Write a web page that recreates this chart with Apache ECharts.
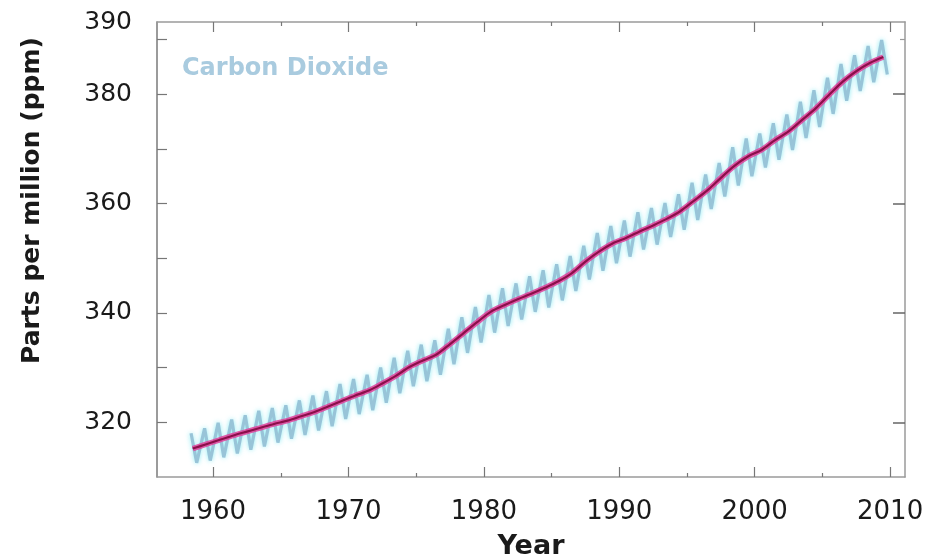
<!DOCTYPE html>
<html>
<head>
<meta charset="utf-8">
<script src="https://cdn.jsdelivr.net/npm/echarts@6/dist/echarts.min.js"></script>
<style>
html,body{margin:0;padding:0;background:#fff;}
#chart{width:926px;height:558px;}
</style>
</head>
<body>
<div id="chart"></div>
<script>
// ---- data ----
const years = [1958,1959,1960,1961,1962,1963,1964,1965,1966,1967,1968,1969,1970,1971,1972,1973,1974,1975,1976,1977,1978,1979,
  1980,1981,1982,1983,1984,1985,1986,1987,1988,1989,1990,1991,1992,1993,1994,1995,1996,1997,1998,1999,
  2000,2001,2002,2003,2004,2005,2006,2007,2008,2009];
// annual (trend) CO2, ppm
const trendPpm = [315.2,316.0,316.8,317.6,318.3,319.0,319.7,320.3,321.1,321.9,322.9,323.9,324.9,325.8,327.1,328.5,330.1,331.3,332.4,334.3,336.3,338.3,
  340.2,341.4,342.5,343.5,344.6,345.8,347.3,349.4,351.2,352.7,353.7,354.9,356.0,357.2,358.6,360.5,362.4,364.7,366.9,368.6,
  369.8,371.6,373.2,375.3,377.4,379.9,382.3,384.2,385.7,386.8];
// seasonal maximum (May) and minimum (October) of the monthly record, ppm
const seasonalHigh = [318.0,318.9,319.9,320.5,321.3,322.1,322.6,323.1,324.0,324.9,325.7,327.0,327.9,328.7,330.0,331.8,333.1,334.2,335.0,337.1,339.2,341.1,
  343.3,344.5,345.4,346.7,347.8,348.9,350.4,352.3,354.6,355.9,356.9,358.4,359.2,360.1,361.7,363.8,365.3,367.4,370.3,371.9,
  372.8,374.7,376.3,378.6,380.7,383.0,385.5,387.1,388.8,389.9];
const seasonalLow = [312.6,313.0,313.6,314.3,315.0,315.6,316.3,317.0,317.7,318.5,319.3,320.6,321.5,322.2,323.6,325.3,326.6,327.5,328.7,330.6,332.7,334.6,
  336.4,337.6,338.8,340.2,341.0,342.3,344.0,346.1,347.7,349.1,350.3,351.6,352.5,353.9,355.2,357.0,359.0,361.3,363.3,365.0,
  366.6,368.0,369.8,372.0,374.0,376.4,378.8,380.6,382.2,383.6];
const highMonth = 5;   // May
const lowMonth = 10;   // October
const xDecadeTicks = [1960,1970,1980,1990,2000,2010];
const xHalfDecadeTicks = [1965,1975,1985,1995,2005];
const yTicks = [320,330,340,350,360,370,380,390];
const yLabelValues = [320,340,360,380];
const yRightMinorTicks = [390];
const yTopLabel = '390';
const seriesName = 'Carbon Dioxide';

// ---- build series data ----
const trendData = years.map((y, i) => [y + 0.5, trendPpm[i]]);
const seasonalData = [];
years.forEach((y, i) => {
  seasonalData.push([y + (highMonth - 0.5) / 12, seasonalHigh[i]]);
  seasonalData.push([y + (lowMonth - 0.5) / 12, seasonalLow[i]]);
});

const X_MIN = 1955.86, X_MAX = 2011.1, Y_MIN = 310, Y_MAX = 393.2;
const FONT = 'DejaVu Sans';
const lineCol = '#9a9a9a';

const chart = echarts.init(document.getElementById('chart'), null, {renderer: 'canvas'});
const baseX = {
  type: 'value', min: X_MIN, max: X_MAX, gridIndex: 0,
  splitLine: {show: false}, axisPointer: {show: false}
};
const baseY = {
  type: 'value', min: Y_MIN, max: Y_MAX, gridIndex: 0,
  splitLine: {show: false}, axisPointer: {show: false}
};
chart.setOption({
  animation: false,
  backgroundColor: '#ffffff',
  grid: {left: 157, right: 21, top: 22, bottom: 81, containLabel: false, outerBoundsMode: 'none'},
  xAxis: [
    Object.assign({}, baseX, {
      position: 'bottom',
      name: 'Year', nameLocation: 'middle', nameGap: 56,
      nameTextStyle: {fontFamily: FONT, fontSize: 27, fontWeight: 'bold', color: '#1a1a1a'},
      axisLine: {show: true, onZero: false, lineStyle: {color: lineCol, width: 1.5}},
      axisTick: {show: true, inside: true, length: 10, customValues: xDecadeTicks, lineStyle: {color: '#777', width: 1.2}},
      axisLabel: {show: true, customValues: xDecadeTicks, margin: 22, fontFamily: FONT, fontSize: 26, color: '#1a1a1a', formatter: v => String(v)}
    }),
    Object.assign({}, baseX, {
      position: 'bottom',
      axisLine: {show: false},
      axisTick: {show: true, inside: true, length: 4, customValues: xHalfDecadeTicks, lineStyle: {color: '#777', width: 1.2}},
      axisLabel: {show: false}
    }),
    Object.assign({}, baseX, {
      position: 'top',
      axisLine: {show: true, onZero: false, lineStyle: {color: lineCol, width: 1.5}},
      axisTick: {show: true, inside: true, length: 10, customValues: xDecadeTicks, lineStyle: {color: '#777', width: 1.2}},
      axisLabel: {show: false}
    }),
    Object.assign({}, baseX, {
      position: 'top',
      axisLine: {show: false},
      axisTick: {show: true, inside: true, length: 4, customValues: xHalfDecadeTicks, lineStyle: {color: '#777', width: 1.2}},
      axisLabel: {show: false}
    })
  ],
  yAxis: [
    Object.assign({}, baseY, {
      position: 'left',
      name: 'Parts per million (ppm)', nameLocation: 'middle', nameGap: 112, nameRotate: 90,
      nameTextStyle: {fontFamily: FONT, fontSize: 25, fontWeight: 'bold', color: '#1a1a1a', padding: [0, 0, 0, 98]},
      axisLine: {show: true, onZero: false, lineStyle: {color: '#7a7a7a', width: 1.5}},
      axisTick: {show: true, inside: true, length: 10, customValues: yTicks, lineStyle: {color: '#777', width: 1.2}},
      axisLabel: {show: true, customValues: yLabelValues.concat([Y_MAX]), margin: 25,
        fontFamily: FONT, fontSize: 25, color: '#1a1a1a',
        formatter: v => (v > 390 ? yTopLabel : String(v))}
    }),
    Object.assign({}, baseY, {
      position: 'right',
      axisLine: {show: true, onZero: false, lineStyle: {color: lineCol, width: 1.5}},
      axisTick: {show: true, inside: true, length: 12, customValues: yLabelValues, lineStyle: {color: '#666', width: 1.5}},
      axisLabel: {show: false}
    }),
    Object.assign({}, baseY, {
      position: 'right',
      axisLine: {show: false},
      axisTick: {show: true, inside: true, length: 5, customValues: yRightMinorTicks, lineStyle: {color: '#999', width: 1.2}},
      axisLabel: {show: false}
    })
  ],
  graphic: [{
    type: 'text', left: 182, top: 57, silent: true,
    style: {text: seriesName, fill: '#a9cbdf', font: 'bold 24px "DejaVu Sans"'}
  }],
  series: [
    {
      name: seriesName + ' (monthly)', type: 'line', xAxisIndex: 0, yAxisIndex: 0,
      data: seasonalData, showSymbol: false, symbol: 'none', smooth: false,
      lineStyle: {color: '#98c4d8', width: 3.2, shadowColor: 'rgba(110,230,240,0.8)', shadowBlur: 5},
      z: 2
    },
    {
      name: seriesName + ' (trend halo)', type: 'line', xAxisIndex: 0, yAxisIndex: 0,
      data: trendData, showSymbol: false, symbol: 'none', smooth: 0.3,
      lineStyle: {color: '#e2409a', width: 5.5, opacity: 0.85},
      z: 3
    },
    {
      name: seriesName + ' (trend)', type: 'line', xAxisIndex: 0, yAxisIndex: 0,
      data: trendData, showSymbol: false, symbol: 'none', smooth: 0.3,
      lineStyle: {color: '#8c0f4a', width: 2.2},
      z: 4
    }
  ]
});
</script>
</body>
</html>
